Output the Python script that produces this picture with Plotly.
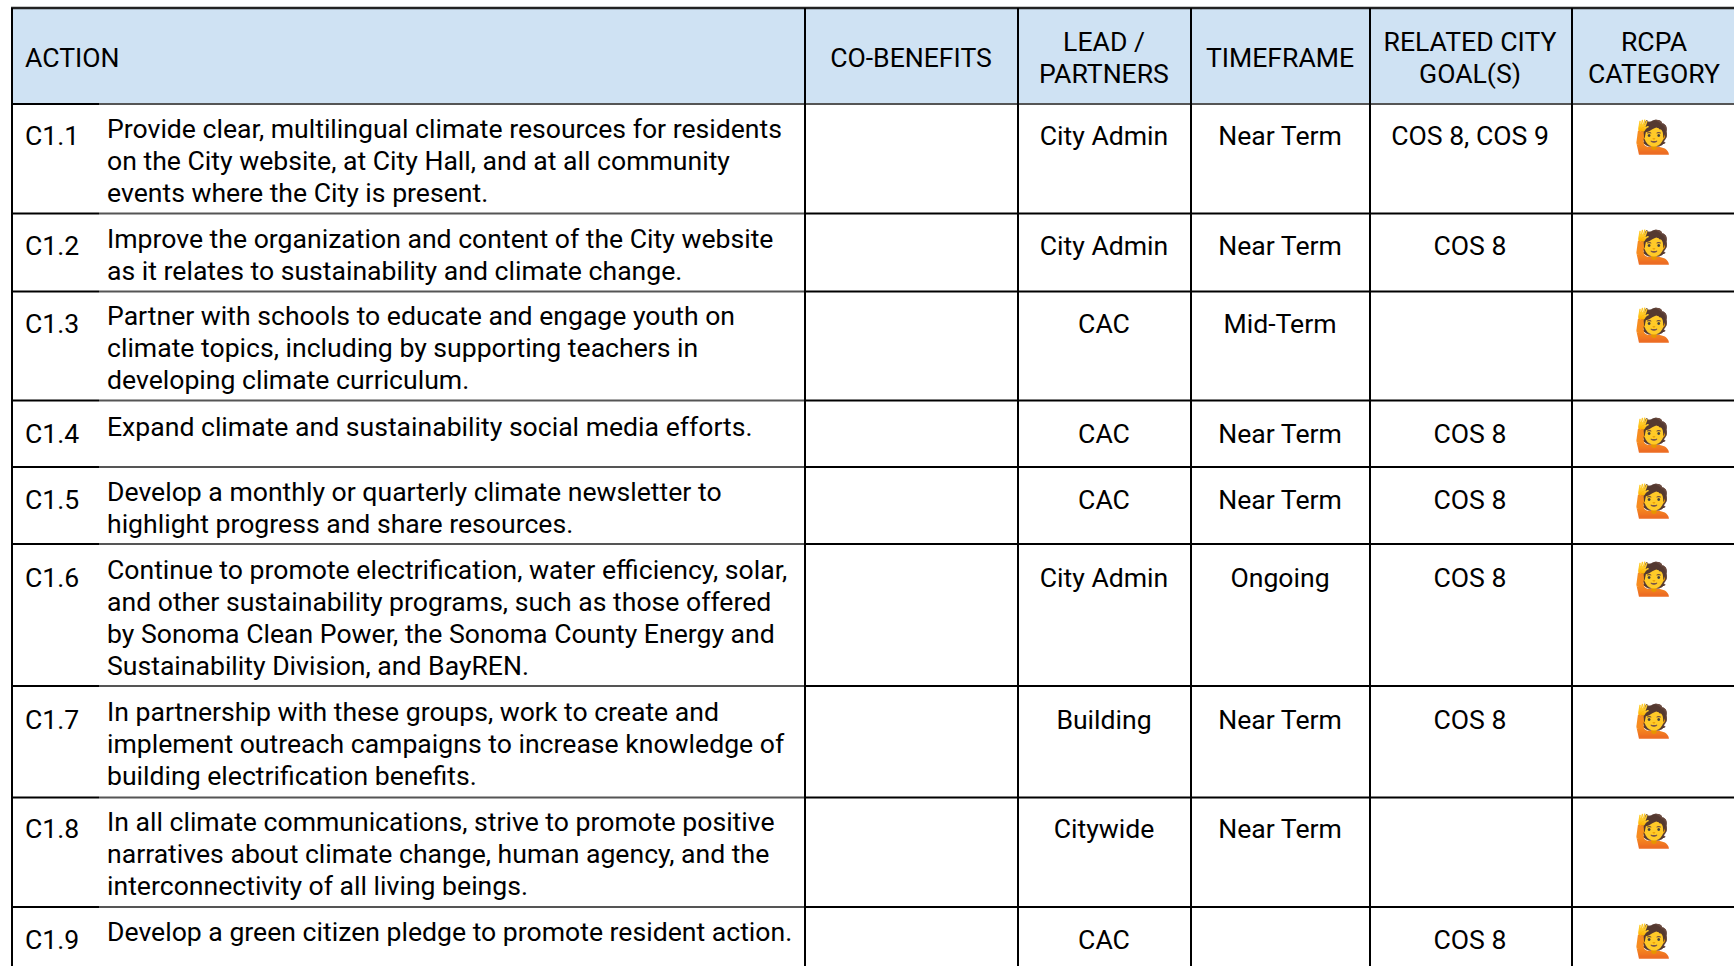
import plotly.graph_objects as go

# ---- data ----
header_labels = [["ACTION"], ["CO-BENEFITS"], ["LEAD /", "PARTNERS"], ["TIMEFRAME"],
                 ["RELATED CITY", "GOAL(S)"], ["RCPA", "CATEGORY"]]
action_ids = ["C1.1", "C1.2", "C1.3", "C1.4", "C1.5", "C1.6", "C1.7", "C1.8", "C1.9"]
action_text = [
    ["Provide clear, multilingual climate resources for residents", "on the City website, at City Hall, and at all community", "events where the City is present."],
    ["Improve the organization and content of the City website", "as it relates to sustainability and climate change."],
    ["Partner with schools to educate and engage youth on", "climate topics, including by supporting teachers in", "developing climate curriculum."],
    ["Expand climate and sustainability social media efforts."],
    ["Develop a monthly or quarterly climate newsletter to", "highlight progress and share resources."],
    ["Continue to promote electrification, water efficiency, solar,", "and other sustainability programs, such as those offered", "by Sonoma Clean Power, the Sonoma County Energy and", "Sustainability Division, and BayREN."],
    ["In partnership with these groups, work to create and", "implement outreach campaigns to increase knowledge of", "building electrification benefits."],
    ["In all climate communications, strive to promote positive", "narratives about climate change, human agency, and the", "interconnectivity of all living beings."],
    ["Develop a green citizen pledge to promote resident action."],
]
lead_partners = ["City Admin", "City Admin", "CAC", "CAC", "CAC", "City Admin", "Building", "Citywide", "CAC"]
timeframe = ["Near Term", "Near Term", "Mid-Term", "Near Term", "Near Term", "Ongoing", "Near Term", "Near Term", ""]
city_goals = ["COS 8, COS 9", "COS 8", "", "COS 8", "COS 8", "COS 8", "COS 8", "", "COS 8"]
rcpa_category = ["🙋"] * 9

# ---- layout geometry (pixels) ----
W, H = 1734, 966
col_lines = [12, 805, 1018, 1191, 1370, 1572]
col_centers = [None, 911, 1104, 1280, 1470, 1654]
row_lines = [104, 213.5, 291.5, 400.5, 467, 544, 686, 797.5, 907]
row_nudge = [-1.5, -1, -1.5, 0, -1, 0, 0, -1.7, -0.7]
emoji_nudge = [0, 0.5, 0, 1.5, 0.5, 1.5, 1.5, 0, 0.5]
top_line = 8
FONT = "Roboto"
SIZE = 26.6
LINE_H = 32
MID = 3  # the visual centre of a middle-anchored label sits this far above its y
LINE = "#000000"
SOFT = "#555555"

fig = go.Figure()
shapes = [dict(type="rect", x0=12, x1=W + 5, y0=top_line, y1=row_lines[0],
               fillcolor="#cfe2f3", line_width=0, layer="below")]
shapes.append(dict(type="line", x0=11, x1=W + 5, y0=top_line, y1=top_line, line=dict(color="#222222", width=2.5)))
for y in row_lines:
    shapes.append(dict(type="line", x0=12, x1=99, y0=y, y1=y, line=dict(color=LINE, width=2)))
    shapes.append(dict(type="line", x0=99, x1=805, y0=y, y1=y, line=dict(color=SOFT, width=2)))
    shapes.append(dict(type="line", x0=805, x1=W + 5, y0=y, y1=y,
                       line=dict(color=SOFT if y == row_lines[0] else LINE, width=2)))
for x in col_lines:
    shapes.append(dict(type="line", x0=x, x1=x, y0=top_line, y1=H + 5, line=dict(color=LINE, width=2)))


def text_trace(xs, ys, labels, pos, family=FONT, size=SIZE):
    fig.add_trace(go.Scatter(x=xs, y=ys, text=labels, mode="text", textposition=pos,
                             textfont=dict(family=family, size=size, color="#000000"),
                             hoverinfo="skip", showlegend=False, cliponaxis=False))


n = len(action_ids)
tops = row_lines
header_mid = 57.5 + MID
# header
hx, hy, ht = [], [], []
for i, lines in enumerate(header_labels):
    for j, s in enumerate(lines):
        hx.append(col_centers[i])
        hy.append(header_mid + (j - (len(lines) - 1) / 2) * LINE_H)
        ht.append(s)
text_trace([25], [hy[0]], [ht[0]], "middle right")
text_trace(hx[1:], hy[1:], ht[1:], "middle center")
# rows
id_y = [t + 33 + MID + d for t, d in zip(tops, row_nudge)]
text_trace([25] * n, id_y, action_ids, "middle right")
ax, ay, at = [], [], []
for t, d, lines in zip(tops, row_nudge, action_text):
    for j, s in enumerate(lines):
        ax.append(107)
        ay.append(t + 25.4 + MID + d + j * LINE_H)
        at.append(s)
text_trace(ax, ay, at, "middle right")
text_trace([col_centers[2]] * n, id_y, lead_partners, "middle center")
text_trace([col_centers[3]] * n, id_y, timeframe, "middle center")
text_trace([col_centers[4]] * n, id_y, city_goals, "middle center")
emoji_y = [t + 33 + MID + d for t, d in zip(tops, emoji_nudge)]
text_trace([col_centers[5]] * n, emoji_y, rcpa_category, "middle center",
           family="Noto Color Emoji, Noto Emoji, sans-serif", size=32)

fig.update_layout(width=W, height=H, margin=dict(l=0, r=0, t=0, b=0),
                  paper_bgcolor="white", plot_bgcolor="white", shapes=shapes, showlegend=False,
                  xaxis=dict(range=[0, W], visible=False, fixedrange=True),
                  yaxis=dict(range=[H, 0], visible=False, fixedrange=True))
fig.write_html("out.html", config=dict(displayModeBar=False),
               post_script="document.body.style.margin='0';document.body.style.overflow='hidden';")
